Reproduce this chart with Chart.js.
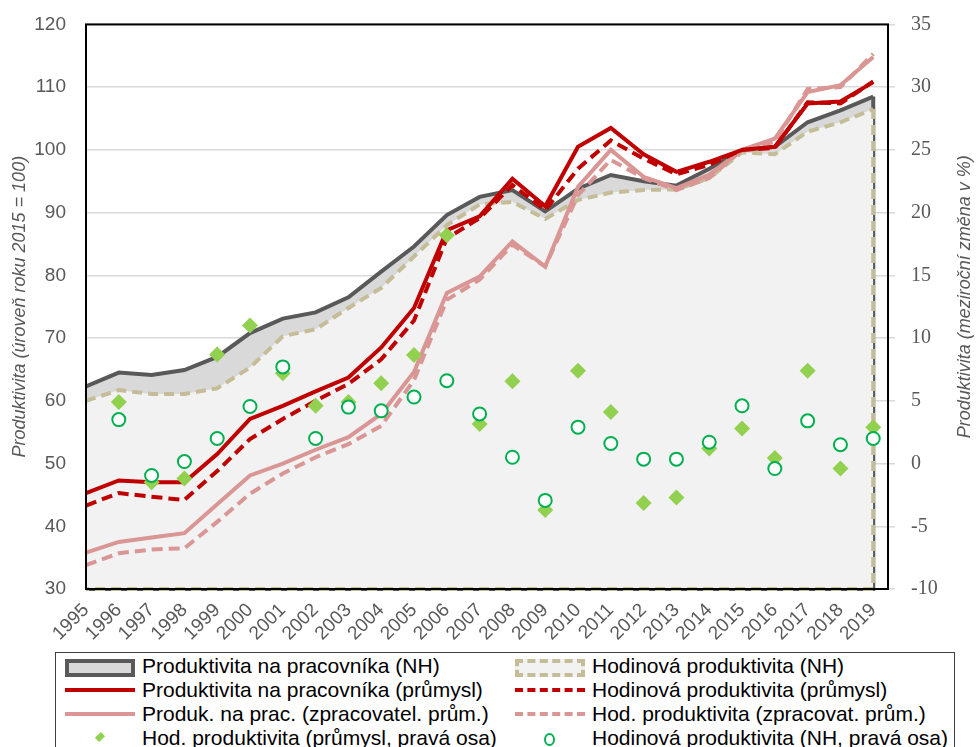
<!DOCTYPE html>
<html>
<head>
<meta charset="utf-8">
<script src="https://cdn.jsdelivr.net/npm/chart.js@4"></script>
<style>
  body { margin: 0; background: #fff; }
  #wrap { position: relative; width: 978px; height: 747px; overflow: hidden; }
  #chart { position: absolute; left: 0; top: -7px; }
  #legend {
    position: absolute; left: 55px; top: 652px; width: 900px; height: 110px;
    border: 1px solid #404040; box-sizing: border-box;
    font-family: "Liberation Sans", Arial, sans-serif; font-size: 21px; color: #000;
  }
  .item { position: absolute; height: 24px; line-height: 24px; white-space: nowrap; }
  .sw { position: absolute; top: 12px; }
  .txt { position: absolute; top: 0; }
</style>
</head>
<body>
<div id="wrap">
  <canvas id="chart" width="978" height="650"></canvas>
  <div id="legend"></div>
</div>
<script>
// Years (x categories)
const years = [1995, 1996, 1997, 1998, 1999, 2000, 2001, 2002, 2003, 2004, 2005, 2006, 2007,
               2008, 2009, 2010, 2011, 2012, 2013, 2014, 2015, 2016, 2017, 2018, 2019];

// Left axis: level (2015 = 100)
const perWorkerNH  = [62.3, 64.5, 64.1, 64.9, 67.0, 70.8, 73.1, 74.1, 76.5, 80.6, 84.6, 89.6, 92.5,
                      93.6, 90.2, 93.8, 96.0, 95.0, 94.3, 97.0, 100.0, 100.5, 104.4, 106.3, 108.5];
const hourlyNH     = [60.0, 61.7, 61.1, 61.1, 62.0, 65.3, 70.3, 71.4, 74.8, 78.0, 83.0, 88.0, 91.3,
                      91.7, 89.0, 92.0, 93.2, 93.6, 93.7, 95.5, 99.6, 99.3, 102.9, 104.4, 106.5];
const perWorkerInd = [45.3, 47.3, 47.0, 47.0, 51.5, 57.1, 59.2, 61.5, 63.7, 68.5, 74.8, 87.2, 89.4,
                      95.4, 91.0, 100.5, 103.5, 99.3, 96.5, 98.1, 100.0, 100.5, 107.4, 107.7, 110.8];
const hourlyInd    = [43.3, 45.3, 44.7, 44.2, 48.8, 53.9, 57.1, 60.0, 62.7, 66.6, 72.8, 85.9, 89.1,
                      94.4, 90.4, 97.0, 101.5, 98.6, 96.1, 97.6, 100.0, 100.3, 107.6, 107.4, 110.9];
const perWorkerMfg = [35.8, 37.5, 38.2, 38.9, 43.5, 48.1, 50.0, 52.2, 54.2, 57.9, 64.6, 77.2, 79.8,
                      85.4, 81.4, 94.1, 100.0, 95.7, 93.9, 96.0, 100.0, 101.8, 109.2, 110.3, 114.8];
const hourlyMfg    = [33.8, 35.7, 36.3, 36.5, 40.7, 45.2, 48.4, 51.0, 53.1, 56.0, 63.3, 76.1, 79.3,
                      84.9, 81.4, 92.8, 98.4, 95.5, 93.6, 95.5, 100.0, 101.3, 109.7, 110.0, 115.3];

// Right axis: year-on-year change in %
const hourlyIndYoY = [null, 4.9, -1.5, -1.2, 8.7, 11.0, 7.2, 4.6, 4.9, 6.4, 8.65, 18.2, 3.15,
                      6.56, -3.7, 7.4, 4.1, -3.15, -2.7, 1.2, 2.8, 0.45, 7.4, -0.4, 2.9];
const hourlyNHYoY  = [null, 3.5, -0.95, 0.16, 2.0, 4.55, 7.7, 2.0, 4.5, 4.2, 5.3, 6.6, 3.95,
                      0.5, -2.94, 2.9, 1.6, 0.35, 0.35, 1.7, 4.6, -0.4, 3.4, 1.5, 2.0];

// Axis ranges
const leftTicks = { min: 30, max: 120, step: 10 };
const rightTicks = { min: -10, max: 35, step: 5 };

const labels = [
  'Produktivita na pracovníka (NH)',
  'Hodinová produktivita (NH)',
  'Produktivita na pracovníka (průmysl)',
  'Hodinová produktivita (průmysl)',
  'Produk. na prac. (zpracovatel. prům.)',
  'Hod. produktivita (zpracovat. prům.)',
  'Hod. produktivita (průmysl, pravá osa)',
  'Hodinová produktivita (NH, pravá osa)'
];

const COL = {
  gray: '#595959', grayFill: '#d9d9d9', beige: '#c4bd97', lightFill: '#f2f2f2',
  red: '#c00000', pink: '#d99694', green: '#92d050', circle: '#00b050'
};

const pts = arr => years.map((y, i) => ({ x: y, y: arr[i] }));

// Close the area outlines along the right edge and the bottom, like the source
const areaEdges = {
  id: 'areaEdges',
  afterDatasetDraw(chart, args) {
    if (args.index > 1) return;
    const ds = chart.data.datasets[args.index];
    const xs = chart.scales.x, ys = chart.scales.y;
    const last = ds.data[ds.data.length - 1];
    const x0 = xs.getPixelForValue(years[0]);
    const x1 = xs.getPixelForValue(last.x);
    const yTop = ys.getPixelForValue(last.y);
    const yBot = chart.chartArea.bottom;
    const ctx = chart.ctx;
    ctx.save();
    ctx.strokeStyle = ds.borderColor;
    ctx.lineWidth = ds.borderWidth;
    ctx.setLineDash(ds.borderDash || []);
    ctx.beginPath();
    ctx.moveTo(x1, yTop);
    ctx.lineTo(x1, yBot);
    ctx.lineTo(x0, yBot);
    ctx.stroke();
    ctx.restore();
  }
};

// Black frame around plot + rotated axis titles
const frame = {
  id: 'frame',
  afterDraw(chart) {
    const { ctx, chartArea: a } = chart;
    const midY = (a.top + a.bottom) / 2;
    ctx.save();
    ctx.strokeStyle = '#000';
    ctx.lineWidth = 2;
    ctx.strokeRect(a.left, a.top, a.right - a.left, a.bottom - a.top);

    ctx.fillStyle = '#595959';
    ctx.font = 'italic 18px "Liberation Sans", Arial, sans-serif';
    ctx.textAlign = 'center';
    ctx.textBaseline = 'middle';
    ctx.translate(20, midY);
    ctx.rotate(-Math.PI / 2);
    ctx.fillText('Produktivita (úroveň roku 2015 = 100)', 0, 0);
    ctx.restore();

    ctx.save();
    ctx.fillStyle = '#595959';
    ctx.font = 'italic 18px "Liberation Sans", Arial, sans-serif';
    ctx.textAlign = 'center';
    ctx.textBaseline = 'middle';
    ctx.translate(965, midY - 10);
    ctx.rotate(-Math.PI / 2);
    ctx.fillText('Produktivita (meziroční změna v %)', 0, 0);
    ctx.restore();
  }
};

const lineDs = (label, arr, color, dash, order) => ({
  label, data: pts(arr), borderColor: color, borderWidth: 4, borderDash: dash,
  pointRadius: 0, fill: false, tension: 0, yAxisID: 'y', order
});

const chart = new Chart(document.getElementById('chart'), {
  type: 'line',
  data: {
    datasets: [
      {
        label: labels[0], data: pts(perWorkerNH), borderColor: COL.gray, borderWidth: 4,
        backgroundColor: COL.grayFill, fill: 'start', pointRadius: 0, tension: 0, yAxisID: 'y', order: 10
      },
      {
        label: labels[1], data: pts(hourlyNH), borderColor: COL.beige, borderWidth: 4, borderDash: [10, 6],
        backgroundColor: COL.lightFill, fill: 'start', pointRadius: 0, tension: 0, yAxisID: 'y', order: 9
      },
      lineDs(labels[2], perWorkerInd, COL.red, [], 5),
      lineDs(labels[3], hourlyInd, COL.red, [11, 6], 6),
      lineDs(labels[4], perWorkerMfg, COL.pink, [], 7),
      lineDs(labels[5], hourlyMfg, COL.pink, [11, 6], 8),
      {
        label: labels[6], data: pts(hourlyIndYoY), showLine: false, pointStyle: 'rectRot',
        pointRadius: 8, pointBackgroundColor: COL.green, pointBorderColor: COL.green, pointBorderWidth: 0,
        yAxisID: 'y1', order: 2
      },
      {
        label: labels[7], data: pts(hourlyNHYoY), showLine: false, pointStyle: 'circle',
        pointRadius: 6.5, pointBackgroundColor: '#fff', pointBorderColor: COL.circle, pointBorderWidth: 2,
        yAxisID: 'y1', order: 1
      }
    ]
  },
  options: {
    responsive: false,
    animation: false,
    layout: { padding: { top: 16 } },
    plugins: { legend: { display: false }, tooltip: { enabled: false } },
    scales: {
      x: {
        type: 'linear', min: years[0], max: years[years.length - 1] + 0.45,
        grid: { display: false }, border: { display: false },
        afterBuildTicks: s => { s.ticks = years.map(v => ({ value: v })); },
        afterFit: s => { s.height = 54; },
        ticks: {
          autoSkip: false, minRotation: 45, maxRotation: 45, padding: 2,
          color: '#595959', font: { family: '"Liberation Sans", Arial, sans-serif', size: 19 },
          callback: v => String(v)
        }
      },
      y: {
        position: 'left', min: leftTicks.min, max: leftTicks.max,
        afterFit: s => { s.width = 86; },
        grid: { color: '#d9d9d9', lineWidth: 1.5, drawTicks: false },
        border: { display: false },
        ticks: {
          stepSize: leftTicks.step, padding: 20, color: '#595959',
          font: { family: '"Liberation Sans", Arial, sans-serif', size: 19 }
        }
      },
      y1: {
        position: 'right', min: rightTicks.min, max: rightTicks.max,
        afterFit: s => { s.width = 90; },
        grid: { drawOnChartArea: false, color: '#d9d9d9', lineWidth: 1.5, tickLength: 7 },
        border: { display: false },
        ticks: {
          stepSize: rightTicks.step, padding: 16, color: '#595959',
          font: { family: '"Liberation Serif", "DejaVu Serif", serif', size: 20 }
        }
      }
    }
  },
  plugins: [areaEdges, frame]
});

// HTML legend: two columns, four rows
const legend = document.getElementById('legend');
const swatches = [
  '<div class="sw" style="left:9px;top:5px;width:62px;height:10px;background:#d9d9d9;border:4px solid #595959;"></div>',
  '<div class="sw" style="left:9px;top:5px;width:62px;height:10px;background:#f2f2f2;border:4px dashed #c4bd97;"></div>',
  '<div class="sw" style="left:9px;top:10px;width:70px;border-top:4px solid #c00000;"></div>',
  '<div class="sw" style="left:9px;top:10px;width:70px;border-top:4px dashed #c00000;"></div>',
  '<div class="sw" style="left:9px;top:10px;width:70px;border-top:4px solid #d99694;"></div>',
  '<div class="sw" style="left:9px;top:10px;width:70px;border-top:4px dashed #d99694;"></div>',
  '<div class="sw" style="left:41px;top:8px;width:6px;height:6px;background:#92d050;transform:rotate(45deg) scaleY(1.4);"></div>',
  '<div class="sw" style="left:38px;top:7px;width:7px;height:9px;border:2px solid #00b050;border-radius:50%;"></div>'
];
labels.forEach((text, i) => {
  const col = i % 2, row = Math.floor(i / 2);
  const el = document.createElement('div');
  el.className = 'item';
  el.style.left = (col === 0 ? 0 : 450) + 'px';
  el.style.top = (1 + row * 24) + 'px';
  el.innerHTML = swatches[i] + '<span class="txt" style="left:86px">' + text + '</span>';
  legend.appendChild(el);
});
</script>
</body>
</html>
